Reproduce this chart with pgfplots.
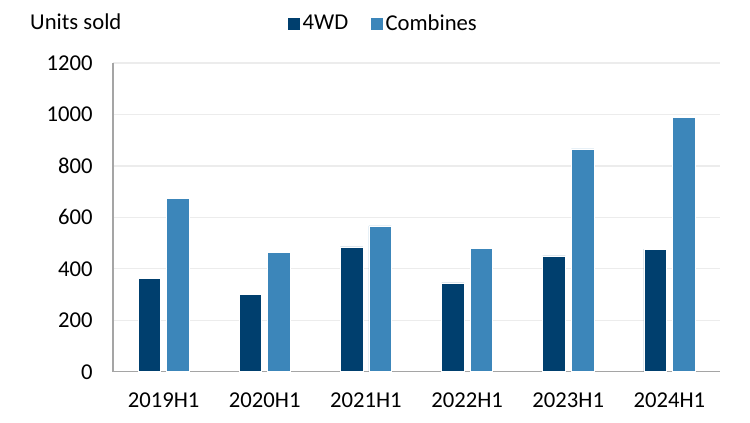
\documentclass[border=0pt]{standalone}
\usepackage{fontspec}
\setmainfont{Carlito}
\usepackage{pgfplots}
\pgfplotsset{compat=1.18}

\definecolor{wdblue}{RGB}{0,63,110}
\definecolor{combblue}{RGB}{60,134,186}
\definecolor{gridgray}{RGB}{236,236,236}
\definecolor{axisgray}{RGB}{165,165,165}

\begin{document}
\fontsize{17pt}{20pt}\selectfont
\begin{tikzpicture}
\path[use as bounding box] (0,0) rectangle (562.5pt,316.5pt);
\begin{axis}[
  at={(84.75pt,37.7pt)}, anchor=south west,
  scale only axis, width=455.25pt, height=231.5pt,
  xmin=-0.5, xmax=5.5, ymin=0, ymax=1200,
  ytick={0,200,...,1200},
  xtick={0,...,5},
  xticklabels={2019H1,2020H1,2021H1,2022H1,2023H1,2024H1},
  ymajorgrids, grid style={gridgray, line width=0.9pt},
  axis x line*=bottom, axis y line*=left,
  axis line style={axisgray, line width=0.9pt},
  major tick length=0pt,
  tick label style={font=\fontsize{17pt}{20pt}\selectfont},
  /pgf/number format/assume math mode=true,
  /pgf/number format/1000 sep={},
  yticklabel style={xshift=-9.5pt},
  xticklabel style={yshift=-10pt},
  ybar, bar width=16.9pt,
  legend style={at={(0.446,1.1265)}, anchor=center, draw=none, fill=none,
    legend columns=2, /tikz/every even column/.append style={column sep=15pt},
    font=\fontsize{17pt}{20pt}\selectfont},
  legend image code/.code={\fill[#1,draw=none] (0pt,-4.5pt) rectangle (9pt,4.5pt);},
]
\addplot[fill=wdblue, draw=white, line width=0.4pt, bar shift=-10.7pt]
  coordinates {(0,363) (1,300) (2,485) (3,345) (4,450) (5,477)};
\addlegendentry{4WD}
\addplot[fill=combblue, draw=white, line width=0.4pt, bar shift=10.7pt]
  coordinates {(0,673) (1,465) (2,567) (3,481) (4,866) (5,989)};
\addlegendentry{Combines}
\end{axis}
\node[anchor=west] at (16.8pt,300pt) {Units sold};
\end{tikzpicture}
\end{document}
